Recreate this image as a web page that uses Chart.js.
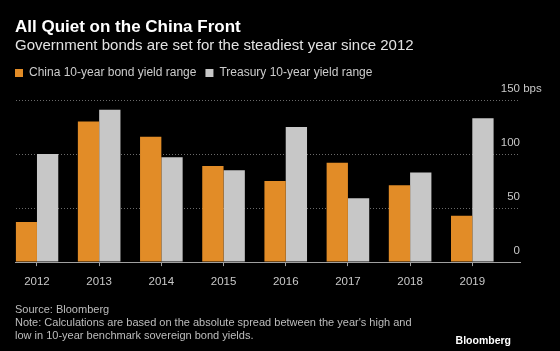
<!DOCTYPE html>
<html>
<head>
<meta charset="utf-8">
<script src="https://cdn.jsdelivr.net/npm/chart.js@4"></script>
<style>
  body { margin: 0; background: #000; }
  #wrap { position: relative; width: 560px; height: 351px; background: #000; overflow: hidden; }
  #wrap canvas { position: absolute; left: 0; top: 0; }
  .txt { position: absolute; left: 15px; font-family: "Liberation Sans", Arial, sans-serif; white-space: nowrap; }
  #title { top: 17px; font-size: 17px; line-height: 20px; font-weight: bold; color: #fff; }
  #subtitle { top: 35.8px; font-size: 15px; line-height: 18px; color: #e2e2e2; }
  #footer { top: 302.8px; font-size: 11px; line-height: 12.9px; color: #bdbdbd; }
  #logo { left: auto; right: 49px; top: 334px; font-size: 10.5px; line-height: 12px; font-weight: bold; color: #fff; }
</style>
</head>
<body>
<div id="wrap">
  <canvas id="chart" width="560" height="351"></canvas>
  <div class="txt" id="title">All Quiet on the China Front</div>
  <div class="txt" id="subtitle">Government bonds are set for the steadiest year since 2012</div>
  <div class="txt" id="footer">Source: Bloomberg<br>Note: Calculations are based on the absolute spread between the year's high and<br>low in 10-year benchmark sovereign bond yields.</div>
  <div class="txt" id="logo">Bloomberg</div>
</div>
<script>
// data (bps)
const years = ['2012', '2013', '2014', '2015', '2016', '2017', '2018', '2019']
const china = [37, 130, 116, 89, 75, 92, 71, 43]
const treasury = [100, 141, 97, 85, 125, 59, 83, 133]
const yTicks = [0, 50, 100, 150]
const yUnit = 'bps'

const font = '"Liberation Sans", Arial, sans-serif'

// legend takes the whole strip above the plot
const legendBox = {
  id: 'legendBox',
  beforeInit(chart) {
    const fit = chart.legend.fit
    chart.legend.fit = function () {
      fit.bind(chart.legend)()
      this.height = 42
    }
  }
}

// y labels sit above the grid lines at the right end
const yLabels = {
  id: 'yLabels',
  afterDraw(chart) {
    const { ctx, chartArea, scales: { y } } = chart
    ctx.save()
    ctx.font = '11.5px ' + font
    ctx.fillStyle = '#c8c8c8'
    ctx.textBaseline = 'alphabetic'
    y.ticks.forEach(t => {
      const py = y.getPixelForValue(t.value) - 8
      ctx.textAlign = 'right'
      ctx.fillText(String(t.value), chartArea.right, py)
      if (t.value === y.max) {
        ctx.textAlign = 'left'
        ctx.fillText(' ' + yUnit, chartArea.right, py)
      }
    })
    ctx.restore()
  }
}

new Chart(document.getElementById('chart'), {
  type: 'bar',
  data: {
    labels: years.map((_, i) => i),
    datasets: [
      {
        label: 'China 10-year bond yield range',
        data: china,
        backgroundColor: '#e28c27',
        borderWidth: 0,
        categoryPercentage: 0.685,
        barPercentage: 1
      },
      {
        label: 'Treasury 10-year yield range',
        data: treasury,
        backgroundColor: '#c7c7c7',
        borderWidth: 0,
        categoryPercentage: 0.685,
        barPercentage: 1
      }
    ]
  },
  options: {
    responsive: false,
    animation: false,
    layout: { padding: { top: 58, left: 6, right: 40, bottom: 54.3 } },
    plugins: {
      legend: {
        position: 'top',
        align: 'start',
        labels: {
          boxWidth: 8,
          boxHeight: 8,
          padding: 9,
          color: '#cccccc',
          font: { family: font, size: 12 }
        }
      },
      tooltip: { enabled: false }
    },
    scales: {
      x: {
        type: 'linear',
        offset: false,
        min: -0.342,
        max: 7.767,
        afterBuildTicks: s => { s.ticks = years.map((_, i) => ({ value: i })) },
        grid: { offset: false, drawOnChartArea: false, tickLength: 4, color: '#a0a0a0' },
        border: { display: true, color: '#a0a0a0' },
        ticks: {
          padding: 8.4,
          color: '#c8c8c8',
          font: { family: font, size: 11.5 },
          maxRotation: 0,
          autoSkip: false,
          callback: v => years[v]
        }
      },
      y: {
        position: 'left',
        min: 0,
        max: 150,
        afterBuildTicks: s => { s.ticks = yTicks.map(v => ({ value: v })) },
        afterFit: s => { s.width = 9.7 },
        grid: {
          drawTicks: false,
          color: c => c.tick && c.tick.value === 0 ? 'rgba(0,0,0,0)' : '#6a6a6a'
        },
        border: { display: false, dash: [1, 2] },
        ticks: { display: false }
      }
    }
  },
  plugins: [legendBox, yLabels]
})
</script>
</body>
</html>
